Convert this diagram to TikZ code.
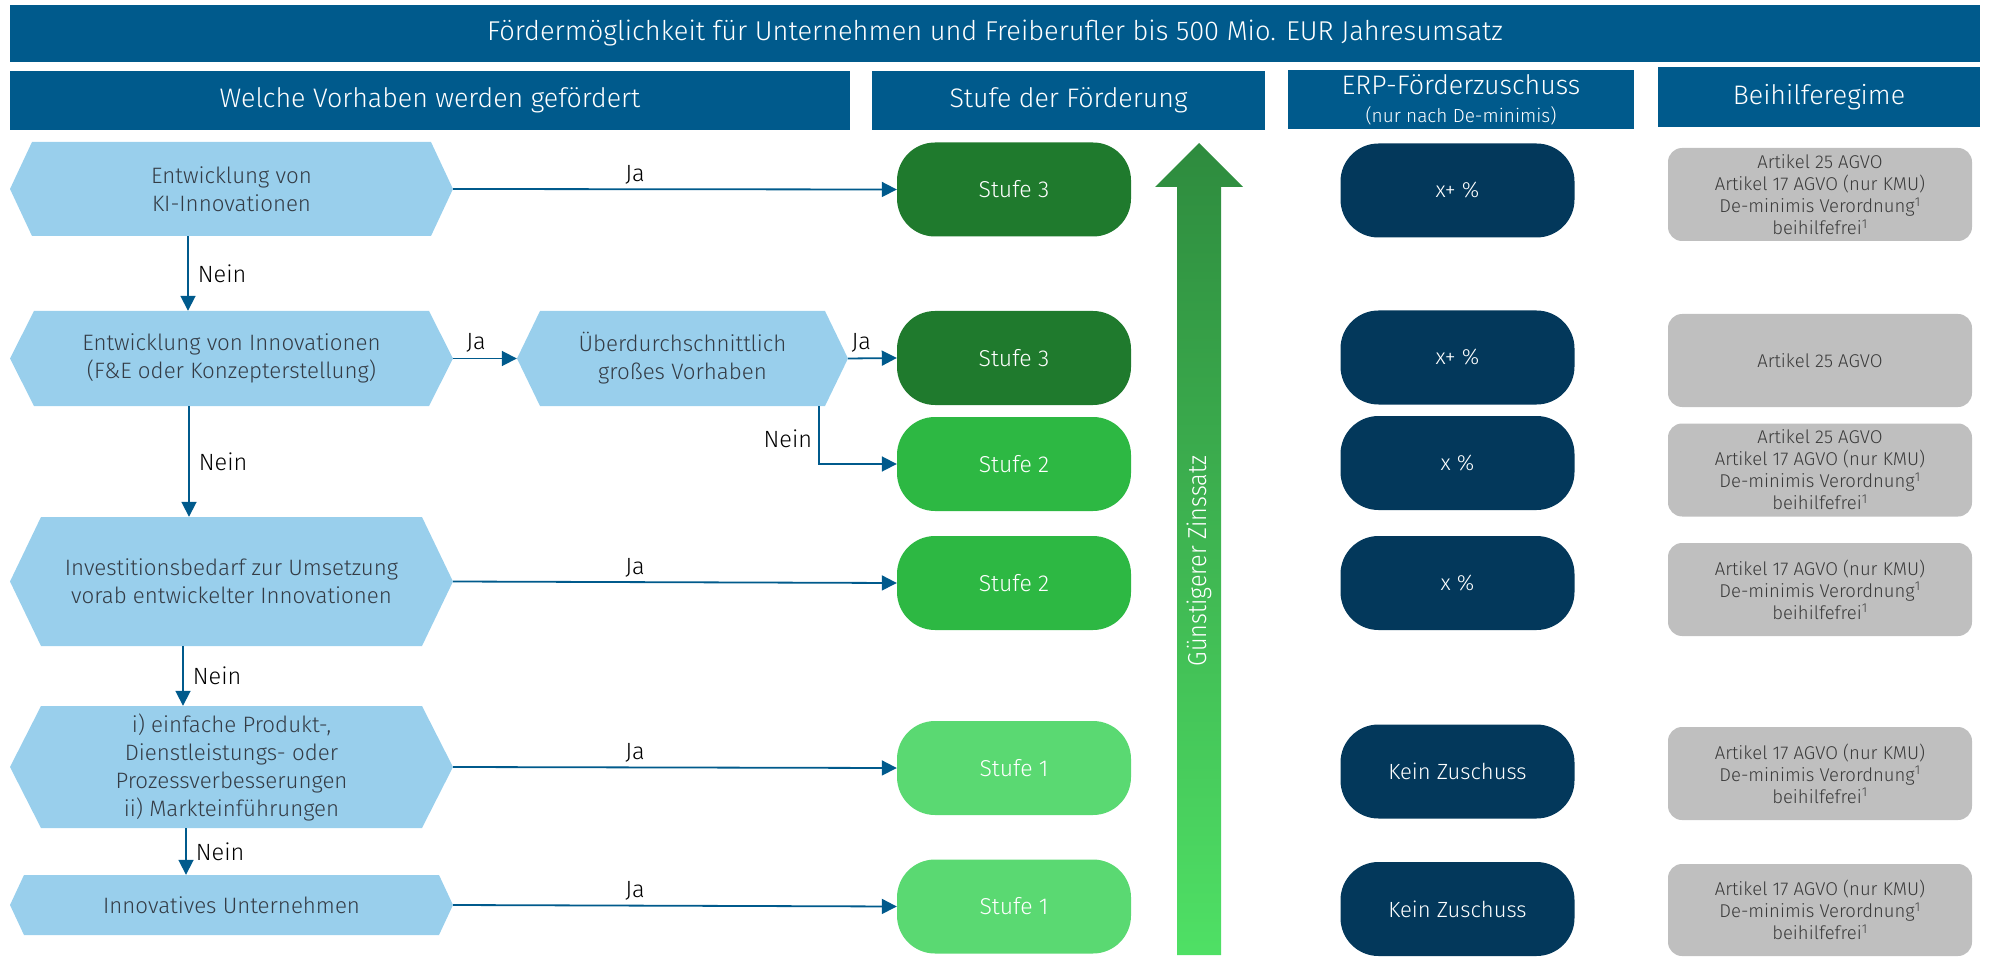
\documentclass[tikz,border=0pt]{standalone}
\usepackage{fontspec}
\setmainfont{Fira Sans Light}
\newfontfamily\condfont[FakeStretch=0.9]{Fira Sans Light}
\usetikzlibrary{arrows.meta}
\definecolor{kfwblue}{RGB}{0,90,140}
\definecolor{hexblue}{RGB}{153,207,236}
\definecolor{stufedrei}{RGB}{31,122,45}
\definecolor{stufezwei}{RGB}{45,184,67}
\definecolor{stufeeins}{RGB}{90,217,114}
\definecolor{navy}{RGB}{3,56,91}
\definecolor{grayb}{RGB}{191,191,191}
\definecolor{graytext}{RGB}{58,58,58}
\definecolor{hextext}{RGB}{52,60,70}
\definecolor{arrtop}{RGB}{46,139,62}
\definecolor{arrbot}{RGB}{79,224,101}
\begin{document}
\begin{tikzpicture}[x=1pt,y=-1pt,
  bar/.style={fill=kfwblue,text=white,inner sep=0pt,align=center,font=\fontsize{26.8}{31}\selectfont},
  hexn/.style={inner sep=0pt,align=center,text=hextext,minimum width=443pt,
     font=\fontsize{22.3}{28}\selectfont,
     path picture={\fill[hexblue] (path picture bounding box.west)
        -- ([xshift=#1]path picture bounding box.north west)
        -- ([xshift=-#1]path picture bounding box.north east)
        -- (path picture bounding box.east)
        -- ([xshift=-#1]path picture bounding box.south east)
        -- ([xshift=#1]path picture bounding box.south west) -- cycle;}},
  pill/.style={rounded corners=38pt,inner sep=0pt,minimum width=234pt,minimum height=94pt,
     text=white,font=\fontsize{23}{28}\selectfont},
  erp/.style={pill,fill=navy,font=\fontsize{22}{28}\selectfont},
  regime/.style={fill=grayb,rounded corners=14pt,inner sep=0pt,minimum width=304pt,
     minimum height=93pt,align=center,text=graytext,font=\fontsize{18.5}{22}\selectfont},
  conn/.style={draw=kfwblue,line width=1.8pt,-{Triangle[length=15pt,width=15pt]}},
  lbl/.style={inner sep=0pt,text=black,font=\fontsize{23.5}{27}\selectfont}
]
\useasboundingbox (0,0) rectangle (1989,957);

% header bars
\node[bar,minimum width=1970pt,minimum height=57pt,font=\fontsize{27.2}{30}\selectfont] (title) at (995,33.5)
  {Fördermöglichkeit für Unternehmen und Freiberufler bis 500 Mio. EUR Jahresumsatz};
\node[bar,minimum width=840pt,minimum height=59pt] (hv) at (430,100.5) {Welche Vorhaben werden gefördert};
\node[bar,minimum width=393pt,minimum height=59pt] (hs) at (1068.5,100.5) {Stufe der Förderung};
\node[bar,minimum width=346pt,minimum height=59pt] (he) at (1461,99.5)
  {ERP-Förderzuschuss\\[-3pt]{\fontsize{19}{22}\selectfont (nur nach De-minimis)}};
\node[bar,minimum width=322pt,minimum height=60pt] (hb) at (1819,97) {Beihilferegime};

% hexagons
\node[hexn=22pt,minimum height=94pt] (h1) at (231.5,189) {Entwicklung von\\KI-Innovationen};
\node[hexn=24pt,minimum height=95pt] (h2) at (231.5,358.5) {Entwicklung von Innovationen\\(F\&E oder Konzepterstellung)};
\node[hexn=23pt,minimum width=331pt,minimum height=95pt] (hu) at (682.5,358.5) {Überdurchschnittlich\\großes Vorhaben};
\node[hexn=31pt,minimum height=129pt] (h3) at (231.5,581.5) {Investitionsbedarf zur Umsetzung\\vorab entwickelter Innovationen};
\node[hexn=31pt,minimum height=122pt] (h4) at (231.5,767) {i) einfache Produkt-,\\Dienstleistungs- oder\\Prozessverbesserungen\\ii) Markteinführungen};
\node[hexn=14pt,minimum height=60pt] (h5) at (231.5,905) {Innovatives Unternehmen};

% Stufe pills
\node[pill,fill=stufedrei] (s1) at (1014,189.5) {Stufe 3};
\node[pill,fill=stufedrei] (s2) at (1014,358) {Stufe 3};
\node[pill,fill=stufezwei] (s3) at (1014,464) {Stufe 2};
\node[pill,fill=stufezwei] (s4) at (1014,583) {Stufe 2};
\node[pill,fill=stufeeins] (s5) at (1014,768) {Stufe 1};
\node[pill,fill=stufeeins] (s6) at (1014,906.5) {Stufe 1};

% gradient arrow
\shade[top color=arrtop,bottom color=arrbot] (1199,143) -- (1243,187) -- (1221,187) -- (1221,955)
  -- (1177,955) -- (1177,187) -- (1155,187) -- cycle;
\node[text=white,rotate=90,inner sep=0pt,font=\condfont\fontsize{26}{30}\selectfont] (zins) at (1199,561) {Günstigerer Zinssatz};

% ERP pills
\node[erp] (e1) at (1457.5,190.5) {x+ \%};
\node[erp] (e2) at (1457.5,357.5) {x+ \%};
\node[erp] (e3) at (1457.5,463) {x \%};
\node[erp] (e4) at (1457.5,583) {x \%};
\node[erp] (e5) at (1457.5,771.5) {Kein Zuschuss};
\node[erp] (e6) at (1457.5,909) {Kein Zuschuss};

% Beihilferegime boxes
\node[regime] (g1) at (1820,194.5) {Artikel 25 AGVO\\Artikel 17 AGVO (nur KMU)\\De-minimis Verordnung\textsuperscript{1}\\beihilfefrei\textsuperscript{1}};
\node[regime] (g2) at (1820,360.5) {Artikel 25 AGVO};
\node[regime] (g3) at (1820,470) {Artikel 25 AGVO\\Artikel 17 AGVO (nur KMU)\\De-minimis Verordnung\textsuperscript{1}\\beihilfefrei\textsuperscript{1}};
\node[regime] (g4) at (1820,589.5) {Artikel 17 AGVO (nur KMU)\\De-minimis Verordnung\textsuperscript{1}\\beihilfefrei\textsuperscript{1}};
\node[regime] (g5) at (1820,773.5) {Artikel 17 AGVO (nur KMU)\\De-minimis Verordnung\textsuperscript{1}\\beihilfefrei\textsuperscript{1}};
\node[regime,minimum height=92pt] (g6) at (1820,910) {Artikel 17 AGVO (nur KMU)\\De-minimis Verordnung\textsuperscript{1}\\beihilfefrei\textsuperscript{1}};

% connectors
\coordinate (v1) at (188,0);
\coordinate (v2) at (189,0);
\coordinate (v3) at (183,0);
\coordinate (v4) at (186,0);
\coordinate (vu) at (819,0);

\draw[conn] (h1.east) -- node[lbl,above=4pt,pos=0.41] (ja1) {Ja} (s1.west);
\draw[conn] (h1.south -| v1) -- node[lbl,right=9pt] (nein1) {Nein} (h2.north -| v1);
\draw[conn] (h2.east) -- node[lbl,above=5pt,pos=0.36] (ja2) {Ja} (hu.west);
\draw[conn] (hu.east) -- node[lbl,above=5pt,pos=0.27] (ja3) {Ja} (s2.west);
\draw[conn] (hu.south -| vu) |- node[lbl,pos=0.28,left=6pt] (nein2) {Nein} (s3.west);
\draw[conn] (h2.south -| v2) -- node[lbl,right=9pt] (nein3) {Nein} (h3.north -| v2);
\draw[conn] (h3.east) -- node[lbl,above=4pt,pos=0.41] (ja4) {Ja} (s4.west);
\draw[conn] (h3.south -| v3) -- node[lbl,right=9pt] (nein4) {Nein} (h4.north -| v3);
\draw[conn] (h4.east) -- node[lbl,above=4pt,pos=0.41] (ja5) {Ja} (s5.west);
\draw[conn] (h4.south -| v4) -- node[lbl,right=9pt] (nein5) {Nein} (h5.north -| v4);
\draw[conn] (h5.east) -- node[lbl,above=4pt,pos=0.41] (ja6) {Ja} (s6.west);
\end{tikzpicture}
\end{document}
